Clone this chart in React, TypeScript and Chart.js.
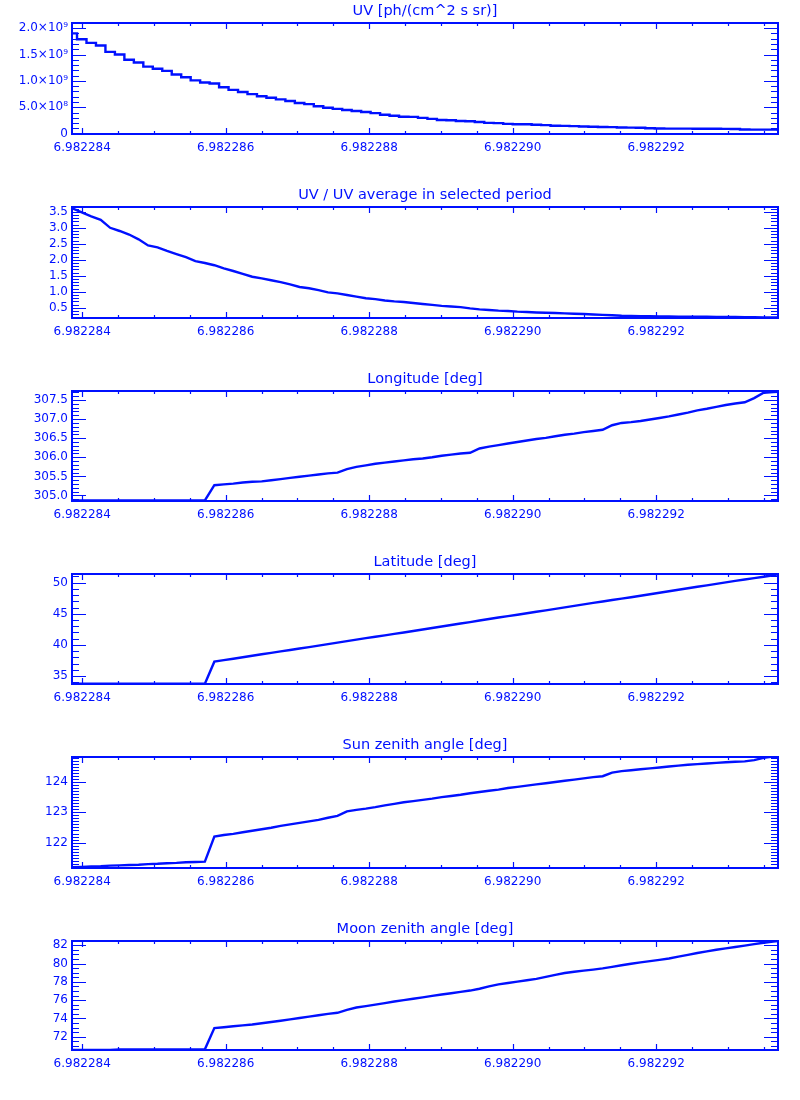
import React, { useEffect, useRef } from "react";
import { Chart, registerables } from "chart.js";

Chart.register(...registerables);

const BLUE = "#0010ff";
const FONT_FAMILY = '"DejaVu Sans", "Noto Sans", sans-serif';

// ---------- time axis (sample times, offsets in 1e-6 from TIME_BASE) ----------
const TIME_BASE = 6.982284;
const TIME_OFFSETS_US = [
  -0.138, -0.006, 0.126, 0.258, 0.39, 0.522, 0.654, 0.786, 0.918, 1.05,
  1.182, 1.314, 1.446, 1.578, 1.71, 1.842, 1.974, 2.106, 2.238, 2.37,
  2.502, 2.634, 2.766, 2.898, 3.03, 3.162, 3.294, 3.426, 3.558, 3.69,
  3.822, 3.954, 4.086, 4.218, 4.35, 4.482, 4.614, 4.746, 4.878, 5.01,
  5.142, 5.274, 5.406, 5.538, 5.67, 5.802, 5.934, 6.066, 6.198, 6.33,
  6.462, 6.594, 6.726, 6.858, 6.99, 7.122, 7.254, 7.386, 7.518, 7.65,
  7.782, 7.914, 8.046, 8.178, 8.31, 8.442, 8.574, 8.706, 8.838, 8.97,
  9.102, 9.234, 9.366, 9.498, 9.63, 9.762,
];
const X_MIN_US = -0.142;
const X_MAX_US = 9.698;
const X_MAJOR_US = [0, 2, 4, 6, 8];
const X_TICK_LABELS = ["6.982284", "6.982286", "6.982288", "6.982290", "6.982292"];
const X_MINOR_STEP_US = 0.5;

// ---------- series ----------
const UV = [
  1.9e9, 1.79e9, 1.72e9, 1.67e9, 1.55e9, 1.5e9, 1.4e9, 1.35e9, 1.27e9, 1.23e9,
  1.19e9, 1.12e9, 1.07e9, 1.01e9, 0.97e9, 0.95e9, 0.88e9, 0.83e9, 0.79e9, 0.75e9,
  0.71e9, 0.68e9, 0.65e9, 0.62e9, 0.58e9, 0.56e9, 0.52e9, 0.49e9, 0.47e9, 0.45e9,
  0.43e9, 0.41e9, 0.39e9, 0.36e9, 0.34e9, 0.32e9, 0.318e9, 0.3e9, 0.28e9, 0.26e9,
  0.255e9, 0.24e9, 0.235e9, 0.22e9, 0.205e9, 0.2e9, 0.185e9, 0.18e9, 0.178e9, 0.168e9,
  0.163e9, 0.15e9, 0.147e9, 0.144e9, 0.135e9, 0.13e9, 0.127e9, 0.124e9, 0.116e9, 0.114e9,
  0.112e9, 0.102e9, 0.097e9, 0.096e9, 0.095e9, 0.095e9, 0.094e9, 0.094e9, 0.093e9, 0.092e9,
  0.09e9, 0.079e9, 0.077e9, 0.076e9, 0.076e9, 0.075e9,
];
const UV_RATIO = [
  3.61, 3.48, 3.36, 3.25, 3.0, 2.9, 2.79, 2.64, 2.45, 2.39,
  2.28, 2.18, 2.08, 1.96, 1.9, 1.83, 1.73, 1.65, 1.56, 1.47,
  1.42, 1.36, 1.3, 1.23, 1.15, 1.11, 1.05, 0.98, 0.95, 0.9,
  0.85, 0.8, 0.77, 0.73, 0.7, 0.68, 0.65, 0.62, 0.59, 0.56,
  0.54, 0.52, 0.48, 0.45, 0.43, 0.41, 0.4, 0.38, 0.37, 0.355,
  0.345, 0.335, 0.325, 0.315, 0.305, 0.29, 0.28, 0.265, 0.25, 0.245,
  0.24, 0.235, 0.23, 0.228, 0.225, 0.222, 0.22, 0.218, 0.215, 0.213,
  0.21, 0.205, 0.203, 0.201, 0.2, 0.198,
];
const LONGITUDE = [
  304.87, 304.87, 304.87, 304.87, 304.87, 304.87, 304.87, 304.87, 304.87, 304.87,
  304.87, 304.87, 304.87, 304.87, 304.87, 305.27, 305.29, 305.31, 305.34, 305.36,
  305.37, 305.4, 305.43, 305.46, 305.49, 305.52, 305.55, 305.58, 305.6, 305.69,
  305.75, 305.79, 305.83, 305.86, 305.89, 305.92, 305.95, 305.97, 306.0, 306.04,
  306.07, 306.1, 306.12, 306.23, 306.28, 306.32, 306.36, 306.4, 306.44, 306.48,
  306.51, 306.55, 306.59, 306.62, 306.66, 306.69, 306.72, 306.84, 306.9, 306.92,
  306.95, 306.99, 307.03, 307.07, 307.12, 307.17, 307.23, 307.27, 307.32, 307.37,
  307.41, 307.44, 307.55, 307.69, 307.71, 307.72,
];
const LATITUDE = [
  33.75, 33.75, 33.75, 33.75, 33.75, 33.75, 33.75, 33.75, 33.75, 33.75,
  33.75, 33.75, 33.75, 33.75, 33.75, 37.3, 37.55, 37.78, 38.02, 38.25,
  38.5, 38.72, 38.95, 39.18, 39.42, 39.65, 39.88, 40.12, 40.36, 40.6,
  40.85, 41.08, 41.3, 41.54, 41.77, 42.0, 42.24, 42.48, 42.72, 42.96,
  43.2, 43.43, 43.67, 43.92, 44.16, 44.4, 44.62, 44.85, 45.08, 45.32,
  45.55, 45.79, 46.03, 46.27, 46.51, 46.75, 46.98, 47.21, 47.44, 47.67,
  47.9, 48.14, 48.38, 48.62, 48.86, 49.1, 49.34, 49.58, 49.82, 50.06,
  50.3, 50.52, 50.74, 50.96, 51.2, 51.5,
];
const SUN_ZENITH = [
  121.19, 121.2, 121.21, 121.22, 121.24, 121.25, 121.26, 121.27, 121.29, 121.3,
  121.32, 121.33, 121.35, 121.36, 121.37, 122.2, 122.25, 122.29, 122.34, 122.39,
  122.44, 122.49, 122.55, 122.6, 122.65, 122.7, 122.75, 122.82, 122.88, 123.03,
  123.08, 123.12, 123.17, 123.23, 123.28, 123.33, 123.37, 123.41, 123.45, 123.5,
  123.54, 123.58, 123.63, 123.67, 123.71, 123.75, 123.8, 123.84, 123.88, 123.92,
  123.96, 124.0, 124.04, 124.08, 124.12, 124.16, 124.19, 124.31, 124.36, 124.39,
  124.42, 124.45, 124.48, 124.51, 124.54, 124.57, 124.59, 124.61, 124.63, 124.65,
  124.67, 124.68, 124.72, 124.8, 124.84, 124.86,
];
const MOON_ZENITH = [
  70.57, 70.57, 70.57, 70.57, 70.57, 70.63, 70.63, 70.63, 70.63, 70.63,
  70.63, 70.63, 70.63, 70.63, 70.63, 72.95, 73.05, 73.15, 73.25, 73.35,
  73.48, 73.62, 73.75, 73.9, 74.05, 74.2, 74.35, 74.5, 74.62, 74.95,
  75.2, 75.35, 75.52, 75.68, 75.85, 76.0, 76.15, 76.3, 76.47, 76.62,
  76.76, 76.9, 77.05, 77.25, 77.5, 77.73, 77.88, 78.02, 78.17, 78.33,
  78.55, 78.77, 78.97, 79.1, 79.22, 79.34, 79.47, 79.64, 79.81, 79.98,
  80.13, 80.26, 80.4, 80.55, 80.75, 80.95, 81.15, 81.33, 81.5, 81.65,
  81.8, 81.95, 82.12, 82.27, 82.4, 82.52,
];

// ---------- titles and y ticks ----------
const TITLES = [
  "UV [ph/(cm^2 s sr)]",
  "UV / UV average in selected period",
  "Longitude [deg]",
  "Latitude [deg]",
  "Sun zenith angle [deg]",
  "Moon zenith angle [deg]",
];
const UV_TICKS = [0, 5e8, 1e9, 1.5e9, 2e9];
const UV_TICK_LABELS = ["0", "5.0×10⁸", "1.0×10⁹", "1.5×10⁹", "2.0×10⁹"];
const RATIO_TICKS = [0.5, 1.0, 1.5, 2.0, 2.5, 3.0, 3.5];
const RATIO_TICK_LABELS = ["0.5", "1.0", "1.5", "2.0", "2.5", "3.0", "3.5"];
const LON_TICKS = [305.0, 305.5, 306.0, 306.5, 307.0, 307.5];
const LON_TICK_LABELS = ["305.0", "305.5", "306.0", "306.5", "307.0", "307.5"];
const LAT_TICKS = [35, 40, 45, 50];
const LAT_TICK_LABELS = ["35", "40", "45", "50"];
const SUN_TICKS = [122, 123, 124];
const SUN_TICK_LABELS = ["122", "123", "124"];
const MOON_TICKS = [72, 74, 76, 78, 80, 82];
const MOON_TICK_LABELS = ["72", "74", "76", "78", "80", "82"];

type Panel = {
  title: string;
  values: number[];
  stepped: boolean;
  yMin: number;
  yMax: number;
  majors: number[];
  labels: string[];
  minorStep: number;
  top: number;
  bottom: number;
};

const PANELS: Panel[] = [
  { title: TITLES[0], values: UV, stepped: true, yMin: -0.006e9, yMax: 2.097e9, majors: UV_TICKS, labels: UV_TICK_LABELS, minorStep: 1e8, top: 23, bottom: 134 },
  { title: TITLES[1], values: UV_RATIO, stepped: false, yMin: 0.181, yMax: 3.65, majors: RATIO_TICKS, labels: RATIO_TICK_LABELS, minorStep: 0.1, top: 207, bottom: 318 },
  { title: TITLES[2], values: LONGITUDE, stepped: false, yMin: 304.856, yMax: 307.736, majors: LON_TICKS, labels: LON_TICK_LABELS, minorStep: 0.1, top: 391, bottom: 501 },
  { title: TITLES[3], values: LATITUDE, stepped: false, yMin: 33.71, yMax: 51.4, majors: LAT_TICKS, labels: LAT_TICK_LABELS, minorStep: 1, top: 574, bottom: 684 },
  { title: TITLES[4], values: SUN_ZENITH, stepped: false, yMin: 121.162, yMax: 124.825, majors: SUN_TICKS, labels: SUN_TICK_LABELS, minorStep: 0.1, top: 757, bottom: 868 },
  { title: TITLES[5], values: MOON_ZENITH, stepped: false, yMin: 70.56, yMax: 82.46, majors: MOON_TICKS, labels: MOON_TICK_LABELS, minorStep: 0.5, top: 941, bottom: 1050 },
];

const TITLE_SPACE = 23;
const X_AXIS_SPACE = 30;
const RIGHT_PAD = 22;
const Y_AXIS_WIDTH = 72;
const TITLE_SIZE = 14.5;
const TITLE_PAD_BOTTOM = 3;

function stepValues(min: number, max: number, step: number): number[] {
  const out: number[] = [];
  const k0 = Math.ceil(min / step - 1e-9);
  const k1 = Math.floor(max / step + 1e-9);
  for (let k = k0; k <= k1; k++) out.push(k * step);
  return out;
}

function findMajor(v: number, majors: number[], tol: number): number {
  for (let i = 0; i < majors.length; i++) if (Math.abs(majors[i] - v) < tol) return i;
  return -1;
}

const toTime = (us: number) => TIME_BASE + us * 1e-6;
const X_TOL = 1e-9;
const X_MAJOR_VALUES = X_MAJOR_US.map(toTime);

function makeBoxPlugin(p: Panel) {
  return {
    id: "idlBox",
    afterDraw(chart: any) {
      const { ctx, chartArea: a } = chart;
      const xs = chart.scales.x;
      const ys = chart.scales.y;
      ctx.save();
      ctx.strokeStyle = BLUE;
      ctx.lineWidth = 1.2;
      ctx.beginPath();
      for (const t of xs.ticks) {
        const px = Math.round(xs.getPixelForValue(t.value)) + 0.5;
        const len = findMajor(t.value, X_MAJOR_VALUES, X_TOL) >= 0 ? 6 : 3;
        ctx.moveTo(px, a.bottom);
        ctx.lineTo(px, a.bottom - len);
        ctx.moveTo(px, a.top);
        ctx.lineTo(px, a.top + len);
      }
      const yTol = p.minorStep * 1e-3;
      for (const t of ys.ticks) {
        const py = Math.round(ys.getPixelForValue(t.value)) + 0.5;
        const len = findMajor(t.value, p.majors, yTol) >= 0 ? 14 : 7;
        ctx.moveTo(a.left, py);
        ctx.lineTo(a.left + len, py);
        ctx.moveTo(a.right, py);
        ctx.lineTo(a.right - len, py);
      }
      ctx.stroke();
      ctx.lineWidth = 2;
      ctx.strokeRect(a.left, a.top, a.right - a.left, a.bottom - a.top);
      ctx.restore();
    },
  };
}

function PanelChart({ panel }: { panel: Panel }) {
  const ref = useRef<HTMLCanvasElement | null>(null);
  const height = panel.bottom - panel.top + TITLE_SPACE + X_AXIS_SPACE;

  useEffect(() => {
    if (!ref.current) return;
    const points = TIME_OFFSETS_US.map((us, i) => ({ x: toTime(us), y: panel.values[i] }));
    const xTickVals = stepValues(X_MIN_US, X_MAX_US, X_MINOR_STEP_US).map(toTime);
    const yTickVals = stepValues(panel.yMin, panel.yMax, panel.minorStep);
    const yTol = panel.minorStep * 1e-3;
    const tickFont = { family: FONT_FAMILY, size: 12, weight: "normal" as const };

    const chart = new Chart(ref.current, {
      type: "line",
      data: {
        datasets: [
          {
            data: points,
            borderColor: BLUE,
            backgroundColor: BLUE,
            borderWidth: 2.4,
            pointRadius: 0,
            pointHoverRadius: 0,
            tension: 0,
            fill: false,
            stepped: panel.stepped ? "middle" : false,
          },
        ],
      },
      options: {
        animation: false,
        responsive: false,
        events: [],
        layout: {
          padding: {
            top: TITLE_SPACE - (TITLE_SIZE * 1.2 + TITLE_PAD_BOTTOM),
            left: 0,
            right: RIGHT_PAD,
            bottom: 0,
          },
        },
        plugins: {
          legend: { display: false },
          tooltip: { enabled: false },
          title: {
            display: true,
            text: panel.title,
            color: BLUE,
            fullSize: false,
            font: { family: FONT_FAMILY, size: TITLE_SIZE, weight: "normal", lineHeight: 1.2 },
            padding: { top: 0, bottom: TITLE_PAD_BOTTOM },
          },
        },
        scales: {
          x: {
            type: "linear",
            min: toTime(X_MIN_US),
            max: toTime(X_MAX_US),
            grid: { display: false, drawTicks: false },
            border: { display: false },
            ticks: {
              color: BLUE,
              font: tickFont,
              autoSkip: false,
              maxRotation: 0,
              minRotation: 0,
              padding: 7,
              callback: (v: any) => {
                const i = findMajor(Number(v), X_MAJOR_VALUES, X_TOL);
                return i >= 0 ? X_TICK_LABELS[i] : "";
              },
            },
            afterBuildTicks: (s: any) => {
              s.ticks = xTickVals.map((value) => ({ value }));
            },
            afterFit: (s: any) => {
              s.height = X_AXIS_SPACE;
            },
          },
          y: {
            type: "linear",
            min: panel.yMin,
            max: panel.yMax,
            grid: { display: false, drawTicks: false },
            border: { display: false },
            ticks: {
              color: BLUE,
              font: tickFont,
              autoSkip: false,
              padding: 4,
              callback: (v: any) => {
                const i = findMajor(Number(v), panel.majors, yTol);
                return i >= 0 ? panel.labels[i] : "";
              },
            },
            afterBuildTicks: (s: any) => {
              s.ticks = yTickVals.map((value) => ({ value }));
            },
            afterFit: (s: any) => {
              s.width = Y_AXIS_WIDTH;
            },
          },
        },
      },
      plugins: [makeBoxPlugin(panel)],
    } as any);

    return () => chart.destroy();
  }, [panel]);

  return (
    <canvas
      ref={ref}
      width={800}
      height={height}
      style={{
        position: "absolute",
        left: 0,
        top: panel.top - TITLE_SPACE,
        width: 800,
        height,
        display: "block",
      }}
    />
  );
}

export default function App() {
  return (
    <div
      style={{
        position: "absolute",
        left: 0,
        top: 0,
        width: 800,
        height: 1100,
        background: "#ffffff",
        overflow: "hidden",
      }}
    >
      {PANELS.map((p, i) => (
        <PanelChart key={i} panel={p} />
      ))}
    </div>
  );
}
